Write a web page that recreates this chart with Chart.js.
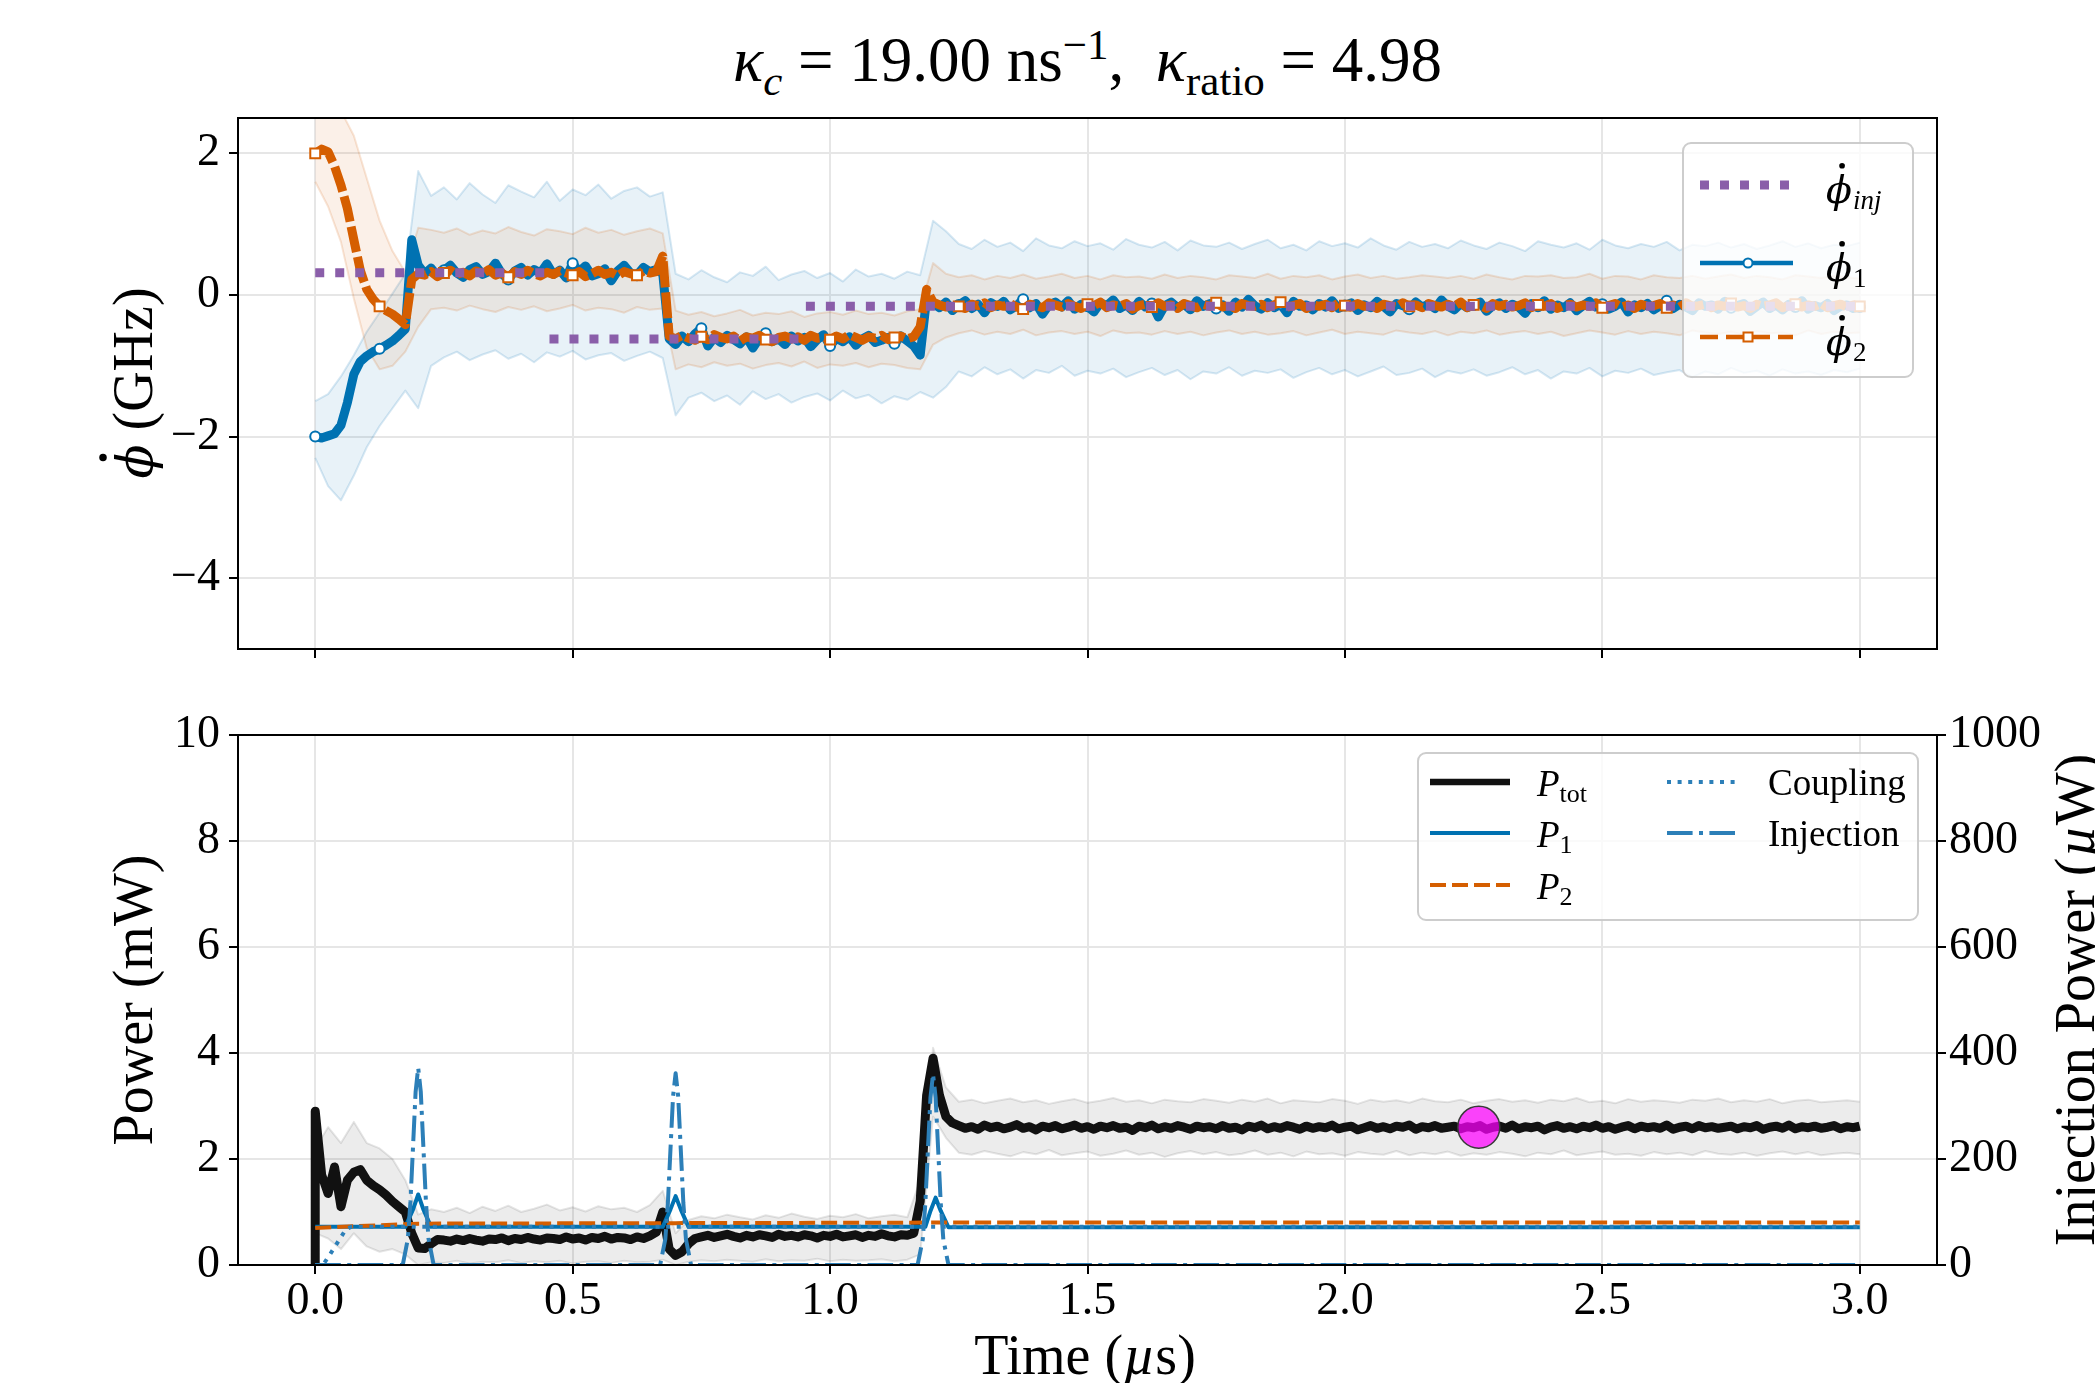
<!DOCTYPE html>
<html>
<head>
<meta charset="utf-8">
<script src="https://cdn.jsdelivr.net/npm/chart.js@4.4.1/dist/chart.umd.min.js"></script>
<style>
html, body { margin: 0; padding: 0; background: #fff; }
body { width: 2095px; height: 1383px; position: relative; overflow: hidden; font-family: 'Liberation Serif', serif; }
#title { position: absolute; left: 238px; width: 1699px; top: 18px; text-align: center; font-size: 63px; line-height: 84px; color: #000; }
#title sub, #title sup { font-size: 43px; line-height: 0; }
canvas { position: absolute; left: 0; }
#top { top: 0; }
#bottom { top: 690px; }
</style>
</head>
<body>
<div id="title"><i>κ</i><sub><i>c</i></sub> = 19.00 ns<sup>−1</sup>,&nbsp; <i>κ</i><sub>ratio</sub> = 4.98</div>
<canvas id="top" width="2095" height="690"></canvas>
<canvas id="bottom" width="2095" height="693"></canvas>
<script>
// tick values
const xTicks = [0, 0.5, 1.0, 1.5, 2.0, 2.5, 3.0];
const phiTicks = [-4, -2, 0, 2];
const powTicks = [0, 2, 4, 6, 8, 10];
const injTicks = [0, 200, 400, 600, 800, 1000];

// phase velocity traces, one value every 0.0125 us (GHz)
const phi1 = [-2.00,-2.02,-1.99,-1.96,-1.84,-1.52,-1.12,-0.94,-0.86,-0.80,-0.76,-0.71,-0.65,-0.57,-0.48,0.78,0.42,
  0.30,0.38,0.27,0.35,0.42,0.31,0.25,0.36,0.40,0.29,0.33,0.45,0.30,0.22,0.34,0.39,0.28,0.36,0.31,0.44,0.29,0.35,0.24,0.45,0.33,0.41,0.27,0.30,0.37,0.20,0.34,0.42,0.31,0.28,0.39,0.33,0.36,0.30,
  -0.62,-0.70,-0.58,-0.66,-0.55,-0.47,-0.72,-0.60,-0.67,-0.57,-0.63,-0.69,-0.59,-0.75,-0.61,-0.54,-0.66,-0.62,-0.70,-0.58,-0.65,-0.60,-0.73,-0.63,-0.56,-0.72,-0.61,-0.66,-0.59,-0.71,-0.62,-0.57,-0.67,-0.64,-0.60,-0.69,-0.58,-0.65,-0.72,-0.85,
  -0.05,-0.12,-0.18,-0.10,-0.22,-0.14,-0.08,-0.19,-0.13,-0.25,-0.11,-0.16,-0.09,-0.21,-0.15,-0.06,-0.18,-0.12,-0.27,-0.14,
  -0.10,-0.17,-0.08,-0.20,-0.13,-0.16,-0.24,-0.11,-0.15,-0.07,-0.19,-0.14,-0.22,-0.09,-0.17,-0.12,-0.31,-0.15,-0.10,-0.18,
  -0.13,-0.21,-0.08,-0.16,-0.12,-0.19,-0.14,-0.23,-0.10,-0.17,-0.06,-0.15,-0.20,-0.11,-0.18,-0.13,-0.25,-0.09,-0.16,-0.14,
  -0.21,-0.12,-0.17,-0.08,-0.19,-0.15,-0.11,-0.22,-0.14,-0.18,-0.09,-0.16,-0.24,-0.12,-0.15,-0.20,-0.10,-0.17,-0.13,-0.19,
  -0.07,-0.16,-0.21,-0.12,-0.18,-0.14,-0.10,-0.23,-0.15,-0.11,-0.19,-0.13,-0.17,-0.26,-0.12,-0.16,-0.08,-0.20,-0.14,-0.18,
  -0.11,-0.22,-0.15,-0.09,-0.17,-0.13,-0.20,-0.16,-0.10,-0.24,-0.14,-0.18,-0.12,-0.21,-0.15,-0.08,-0.19,-0.13,-0.17,-0.22,
  -0.11,-0.16,-0.14,-0.20,-0.09,-0.18,-0.15,-0.12,-0.23,-0.16,-0.10,-0.19,-0.14,-0.21,-0.13,-0.17,-0.08,-0.20,-0.15,-0.18,
  -0.12,-0.22,-0.16,-0.14,-0.19,-0.17];
const phi2 = [2.00,2.06,2.02,1.82,1.55,1.22,0.78,0.35,0.08,-0.06,-0.16,-0.22,-0.27,-0.34,-0.42,0.22,0.30,
  0.28,0.33,0.26,0.31,0.35,0.29,0.32,0.27,0.34,0.30,0.36,0.28,0.31,0.25,0.33,0.29,0.35,0.30,0.27,0.32,0.29,0.34,0.31,0.28,0.33,0.26,0.30,0.35,0.29,0.32,0.27,0.33,0.30,0.28,0.34,0.31,0.33,0.55,
  -0.58,-0.62,-0.57,-0.61,-0.64,-0.59,-0.63,-0.56,-0.60,-0.62,-0.58,-0.65,-0.59,-0.61,-0.57,-0.63,-0.66,-0.60,-0.58,-0.62,-0.59,-0.64,-0.57,-0.61,-0.60,-0.63,-0.58,-0.62,-0.56,-0.60,-0.64,-0.59,-0.61,-0.57,-0.63,-0.60,-0.58,-0.62,-0.59,-0.45,
  0.08,-0.10,-0.14,-0.17,-0.12,-0.16,-0.19,-0.13,-0.15,-0.11,-0.18,-0.14,-0.16,-0.12,-0.17,-0.20,-0.13,-0.15,-0.18,-0.11,
  -0.14,-0.17,-0.12,-0.16,-0.19,-0.13,-0.15,-0.10,-0.18,-0.14,-0.16,-0.12,-0.20,-0.15,-0.13,-0.17,-0.11,-0.16,-0.14,-0.19,
  -0.12,-0.15,-0.18,-0.13,-0.16,-0.11,-0.17,-0.14,-0.19,-0.12,-0.15,-0.16,-0.13,-0.18,-0.14,-0.10,-0.17,-0.15,-0.12,-0.19,
  -0.14,-0.16,-0.13,-0.18,-0.11,-0.15,-0.17,-0.12,-0.16,-0.14,-0.19,-0.13,-0.15,-0.17,-0.11,-0.16,-0.14,-0.18,-0.12,-0.15,
  -0.17,-0.13,-0.16,-0.10,-0.18,-0.14,-0.15,-0.19,-0.12,-0.16,-0.13,-0.17,-0.15,-0.11,-0.18,-0.14,-0.16,-0.12,-0.19,-0.15,
  -0.13,-0.17,-0.14,-0.16,-0.11,-0.18,-0.15,-0.12,-0.17,-0.14,-0.19,-0.13,-0.16,-0.15,-0.12,-0.18,-0.14,-0.17,-0.11,-0.16,
  -0.15,-0.13,-0.18,-0.14,-0.16,-0.12,-0.17,-0.15,-0.19,-0.13,-0.16,-0.14,-0.11,-0.18,-0.15,-0.13,-0.17,-0.14,-0.16,-0.12,
  -0.18,-0.15,-0.13,-0.17,-0.14,-0.16];

// spread bands, one value every 0.025 us (GHz)
const phi1Hi = [-1.50,-1.40,-1.15,-0.85,-0.52,-0.25,0.02,0.30,1.75,1.40,
  1.52,1.35,1.58,1.42,1.30,1.55,1.46,1.38,1.60,1.33,1.49,1.41,1.56,1.36,1.47,1.52,1.39,1.45,
  0.30,0.22,0.35,0.25,0.18,0.32,0.27,0.40,0.21,0.29,0.34,0.24,0.31,0.19,0.36,0.26,0.30,0.23,0.33,0.28,
  1.05,0.90,
  0.72,0.65,0.78,0.68,0.74,0.62,0.80,0.70,0.66,0.76,0.69,0.73,0.64,0.79,0.71,0.67,0.75,0.63,0.77,0.70,
  0.68,0.74,0.65,0.72,0.78,0.66,0.71,0.63,0.76,0.69,0.73,0.67,0.80,0.70,0.64,0.75,0.68,0.72,0.66,0.77,
  0.70,0.65,0.74,0.69,0.62,0.76,0.71,0.67,0.73,0.64,0.78,0.70,0.66,0.72,0.68,0.75,0.63,0.71,0.69,0.74,
  0.67,0.72,0.65,0.70,0.76,0.68,0.73,0.66,0.71,0.69,0.74];
const phi1Lo = [-2.30,-2.70,-2.90,-2.55,-2.15,-1.85,-1.60,-1.35,-1.60,-1.00,
  -0.88,-0.80,-0.92,-0.84,-0.78,-0.90,-0.83,-0.95,-0.81,-0.87,-0.79,-0.91,-0.85,-0.82,-0.93,-0.86,-0.80,-0.89,
  -1.70,-1.45,-1.38,-1.50,-1.42,-1.55,-1.36,-1.47,-1.40,-1.52,-1.44,-1.39,-1.49,-1.35,-1.46,-1.41,-1.53,-1.43,-1.48,-1.37,
  -1.45,-1.30,
  -1.08,-1.15,-1.02,-1.12,-1.05,-1.18,-1.06,-1.10,-1.00,-1.14,-1.07,-1.11,-1.04,-1.16,-1.09,-1.03,-1.13,-1.06,-1.19,-1.08,
  -1.11,-1.02,-1.14,-1.07,-1.10,-1.05,-1.17,-1.09,-1.03,-1.12,-1.06,-1.15,-1.08,-1.01,-1.13,-1.10,-1.04,-1.16,-1.07,-1.11,
  -1.05,-1.14,-1.09,-1.02,-1.12,-1.06,-1.18,-1.08,-1.11,-1.03,-1.15,-1.07,-1.10,-1.04,-1.13,-1.09,-1.06,-1.16,-1.08,-1.12,
  -1.03,-1.10,-1.07,-1.14,-1.05,-1.11,-1.08,-1.13,-1.06,-1.09,-1.04];
const phi2Hi = [2.70,2.70,2.60,2.25,1.65,1.05,0.62,0.32,0.95,0.92,
  0.88,0.94,0.85,0.91,0.87,0.96,0.89,0.84,0.93,0.90,0.86,0.95,0.88,0.92,0.85,0.90,0.94,0.87,
  -0.22,-0.28,-0.24,-0.30,-0.26,-0.21,-0.29,-0.25,-0.27,-0.23,-0.31,-0.26,-0.24,-0.28,-0.22,-0.27,-0.25,-0.29,-0.23,-0.20,
  0.45,0.30,
  0.25,0.28,0.22,0.27,0.24,0.29,0.23,0.26,0.30,0.24,0.27,0.22,0.28,0.25,0.26,0.23,0.29,0.24,0.27,0.25,
  0.22,0.28,0.26,0.24,0.30,0.23,0.27,0.25,0.28,0.22,0.26,0.29,0.24,0.27,0.23,0.25,0.28,0.26,0.24,0.27,
  0.23,0.29,0.25,0.22,0.27,0.26,0.28,0.24,0.25,0.30,0.23,0.27,0.26,0.22,0.28,0.25,0.24,0.27,0.23,0.26,
  0.29,0.24,0.27,0.25,0.22,0.28,0.26,0.24,0.27,0.25,0.23];
const phi2Lo = [1.60,1.25,0.75,-0.05,-0.75,-1.05,-1.00,-0.80,-0.45,-0.20,
  -0.18,-0.22,-0.15,-0.20,-0.24,-0.17,-0.21,-0.16,-0.23,-0.19,-0.14,-0.22,-0.18,-0.20,-0.25,-0.17,-0.21,-0.19,
  -1.05,-0.98,-1.02,-0.95,-1.00,-0.97,-1.04,-0.99,-0.96,-1.01,-0.94,-1.03,-0.98,-1.00,-0.96,-1.02,-0.97,-0.99,-1.03,-1.05,
  -0.70,-0.60,
  -0.54,-0.50,-0.56,-0.52,-0.55,-0.49,-0.57,-0.53,-0.51,-0.55,-0.52,-0.58,-0.50,-0.54,-0.53,-0.56,-0.51,-0.55,-0.52,-0.57,
  -0.53,-0.50,-0.55,-0.52,-0.56,-0.54,-0.51,-0.57,-0.53,-0.49,-0.55,-0.52,-0.54,-0.56,-0.50,-0.53,-0.55,-0.51,-0.57,-0.52,
  -0.54,-0.50,-0.56,-0.53,-0.51,-0.55,-0.52,-0.58,-0.54,-0.50,-0.53,-0.56,-0.51,-0.55,-0.52,-0.54,-0.57,-0.50,-0.53,-0.55,
  -0.52,-0.56,-0.51,-0.54,-0.53,-0.57,-0.50,-0.55,-0.52,-0.54,-0.53];

// injected phase velocity, piecewise constant
const injStart = [0, 0.455, 0.953];
const injEnd = [0.45, 0.945, 3.0];
const injPhase = [0.316, -0.62, -0.16];

// total power (mW): a leading 0 at t = 0, then one value every 0.0125 us
const pTot = [0,
  2.90,1.70,1.35,1.85,1.10,1.60,1.75,1.80,1.60,1.50,1.42,1.32,1.20,1.10,1.00,0.60,0.32,0.31,0.40,0.48,
  0.47,0.45,0.49,0.46,0.50,0.47,0.45,0.49,0.48,0.51,0.46,0.50,0.48,0.52,0.49,0.47,0.51,0.50,0.48,0.53,0.49,0.51,0.47,0.52,0.50,0.54,0.49,0.52,0.51,0.48,0.53,0.50,0.55,0.62,
  1.00,0.30,0.18,0.25,0.40,0.50,
  0.53,0.56,0.52,0.55,0.58,0.54,0.51,0.56,0.53,0.57,0.55,0.52,0.58,0.54,0.56,0.53,0.57,0.55,0.51,0.56,0.54,0.58,0.53,0.55,0.57,0.52,0.56,0.54,0.59,0.55,0.53,0.57,0.56,0.60,
  1.20,3.20,3.90,3.20,2.80,2.68,
  2.63,2.58,2.61,2.56,2.64,2.59,2.62,2.57,2.60,2.65,2.58,2.61,2.55,2.62,2.59,2.63,2.57,2.60,2.64,2.58,
  2.61,2.56,2.62,2.59,2.63,2.58,2.60,2.54,2.62,2.59,2.64,2.57,2.61,2.58,2.63,2.60,2.56,2.62,2.59,2.61,
  2.57,2.63,2.58,2.60,2.55,2.62,2.59,2.64,2.57,2.61,2.58,2.63,2.60,2.56,2.62,2.58,2.61,2.59,2.64,2.57,
  2.60,2.62,2.55,2.59,2.63,2.58,2.61,2.57,2.62,2.60,2.64,2.56,2.61,2.59,2.63,2.58,2.60,2.62,2.57,2.61,
  2.59,2.63,2.56,2.60,2.62,2.58,2.64,2.57,2.61,2.59,2.62,2.55,2.60,2.63,2.58,2.61,2.57,2.62,2.59,2.64,
  2.58,2.61,2.56,2.60,2.63,2.57,2.62,2.59,2.61,2.58,2.64,2.56,2.60,2.62,2.57,2.63,2.59,2.61,2.58,2.60,
  2.62,2.57,2.61,2.59,2.63,2.56,2.60,2.62,2.58,2.64,2.57,2.61,2.59,2.62,2.58,2.60,2.63,2.57,2.61,2.59,2.62];
// spread of total power, every 0.025 us
const pTotHi = [2.20,2.60,2.30,2.70,2.30,2.20,2.00,1.60,0.95,1.05,
  1.00,1.08,0.98,1.10,1.02,1.12,1.00,1.06,1.14,1.03,1.09,1.01,1.11,1.05,1.08,1.00,1.13,1.40,
  0.60,0.85,0.92,0.88,0.95,0.90,0.86,0.94,0.89,0.97,0.91,0.87,0.93,0.90,0.96,0.88,0.92,0.95,0.90,1.60,
  4.10,3.35,
  3.08,3.12,3.05,3.10,3.14,3.07,3.11,3.04,3.09,3.13,3.06,3.10,3.15,3.08,3.11,3.05,3.12,3.09,3.07,3.13,
  3.10,3.06,3.12,3.08,3.14,3.05,3.11,3.09,3.07,3.13,3.10,3.04,3.12,3.08,3.11,3.06,3.14,3.09,3.07,3.12,
  3.05,3.10,3.13,3.08,3.11,3.06,3.12,3.09,3.15,3.07,3.10,3.05,3.13,3.08,3.11,3.09,3.06,3.12,3.10,3.14,
  3.07,3.11,3.08,3.13,3.05,3.10,3.12,3.07,3.09,3.11,3.08];
const pTotLo = [0.60,0.50,0.30,0.60,0.35,0.25,0.30,0.20,0.00,0.05,
  0.04,0.08,0.03,0.06,0.05,0.09,0.04,0.07,0.05,0.08,0.03,0.06,0.07,0.04,0.08,0.05,0.06,0.10,
  0.00,0.06,0.09,0.07,0.10,0.08,0.06,0.11,0.07,0.09,0.08,0.12,0.07,0.10,0.08,0.09,0.11,0.07,0.10,0.20,
  2.80,2.40,
  2.12,2.08,2.15,2.10,2.05,2.13,2.09,2.17,2.07,2.11,2.14,2.06,2.10,2.16,2.08,2.12,2.04,2.11,2.15,2.09,
  2.13,2.07,2.10,2.16,2.08,2.12,2.05,2.14,2.09,2.11,2.06,2.13,2.10,2.08,2.15,2.07,2.12,2.09,2.14,2.06,
  2.11,2.08,2.13,2.10,2.05,2.12,2.09,2.16,2.07,2.11,2.14,2.08,2.10,2.06,2.13,2.09,2.12,2.07,2.15,2.10,
  2.08,2.12,2.06,2.11,2.14,2.09,2.13,2.07,2.10,2.12,2.09];

// laser powers (mW)
const p1Time = [0, 0.175, 0.19, 0.2, 0.21, 0.225, 0.675, 0.69, 0.7, 0.71, 0.725, 1.185, 1.195, 1.205, 1.215, 1.23, 3.0];
const p1 = [0.72, 0.72, 1.05, 1.33, 1.05, 0.72, 0.72, 1.05, 1.30, 1.05, 0.72, 0.72, 1.02, 1.27, 1.02, 0.71, 0.71];
const p2Time = [0, 0.1, 0.2, 0.7, 1.2, 3.0];
const p2 = [0.70, 0.74, 0.78, 0.79, 0.80, 0.80];
const coupTime = [0, 0.015, 0.03, 0.045, 0.06, 0.07, 3.0];
const coupling = [0, 0, 0.22, 0.45, 0.68, 0.72, 0.72];
// injection power (uW)
const injPowTime = [0, 0.17, 0.18, 0.185, 0.19, 0.195, 0.2, 0.205, 0.21, 0.215, 0.22, 0.23,
  0.67, 0.68, 0.685, 0.69, 0.695, 0.7, 0.705, 0.71, 0.715, 0.72, 0.73,
  1.17, 1.18, 1.185, 1.19, 1.195, 1.2, 1.205, 1.21, 1.215, 1.22, 1.23, 3.0];
const injPow = [0, 0, 50, 120, 224, 327, 372, 327, 224, 120, 50, 0,
  0, 49, 117, 218, 318, 362, 318, 218, 117, 49, 0,
  0, 48, 116, 217, 316, 360, 316, 217, 116, 48, 0, 0];
// highlighted operating point
const markT = [2.26];
const markP = [2.6];

const SERIF = "'Liberation Serif', serif";
const GREEK = "'DejaVu Serif', serif";
const BLUE = '#0072B2', ORANGE = '#D55E00', PURPLE = '#8a5ea9', LBLUE = '#2c7fb8';

Chart.defaults.font.family = SERIF;
Chart.defaults.color = '#000';

const fine = arr => arr.map((y, i) => ({ x: i * 0.0125, y }));
const coarse = arr => arr.map((y, j) => ({ x: j * 0.025, y }));
const pair = (xs, ys) => ys.map((y, i) => ({ x: xs[i], y }));

const injPts = [];
injPhase.forEach((v, k) => {
  injPts.push({ x: injStart[k], y: v }, { x: injEnd[k], y: v });
  if (k < injPhase.length - 1) injPts.push({ x: injEnd[k], y: null });
});
const pTotTime = [0].concat(phi1.map((_, i) => i * 0.0125));

const gridOpts = { color: '#e6e6e6', lineWidth: 2, tickColor: '#000', tickLength: 9, tickWidth: 2 };
const borderOpts = { display: true, color: '#000', width: 2 };
const minus = v => (v < 0 ? '\u2212' + (-v) : String(v));

function xScale(labels, h) {
  return {
    type: 'linear', min: -0.15, max: 3.15,
    afterBuildTicks: s => { s.ticks = xTicks.map(v => ({ value: v })); },
    afterFit: s => { s.height = h; },
    grid: gridOpts, border: borderOpts,
    ticks: { autoSkip: false, maxRotation: 0, padding: 0, font: { size: 46 },
      callback: v => (labels ? v.toFixed(1) : '') }
  };
}
function yScale(min, max, ticks, pos, w, onArea) {
  return {
    type: 'linear', position: pos, min, max,
    afterBuildTicks: s => { s.ticks = ticks.map(v => ({ value: v })); },
    afterFit: s => { s.width = w; },
    grid: Object.assign({}, gridOpts, { drawOnChartArea: onArea }), border: borderOpts,
    ticks: { autoSkip: false, padding: pos === 'left' ? 9 : 3, font: { size: 46 }, callback: minus }
  };
}

// drawing helpers for the frame, legends and math titles
function frame(ctx, a) {
  ctx.save(); ctx.strokeStyle = '#000'; ctx.lineWidth = 2;
  ctx.strokeRect(a.left, a.top, a.right - a.left, a.bottom - a.top); ctx.restore();
}
function seg(ctx, x1, x2, y, color, w, dash) {
  ctx.save(); ctx.strokeStyle = color; ctx.lineWidth = w; ctx.setLineDash(dash || []); ctx.lineCap = 'butt';
  ctx.beginPath(); ctx.moveTo(x1, y); ctx.lineTo(x2, y); ctx.stroke(); ctx.restore();
}
function mark(ctx, x, y, shape, color) {
  ctx.save(); ctx.fillStyle = '#fff'; ctx.strokeStyle = color; ctx.lineWidth = 2; ctx.beginPath();
  if (shape === 'circle') ctx.arc(x, y, 4.5, 0, Math.PI * 2); else ctx.rect(x - 4.5, y - 4.5, 9, 9);
  ctx.fill(); ctx.stroke(); ctx.restore();
}
function box(ctx, x, y, w, h) {
  ctx.save(); ctx.fillStyle = 'rgba(255,255,255,0.8)'; ctx.strokeStyle = 'rgba(200,200,200,0.9)'; ctx.lineWidth = 2;
  ctx.beginPath(); ctx.roundRect(x, y, w, h, 8); ctx.fill(); ctx.stroke(); ctx.restore();
}
function run(ctx, x, y, pieces) {
  pieces.forEach(([t, f, dy]) => { ctx.font = f; ctx.fillText(t, x, y + (dy || 0)); x += ctx.measureText(t).width; });
  return x;
}
function phiDot(ctx, x, y, size) {
  ctx.font = `italic ${size}px ${GREEK}`;
  ctx.fillText('\u03d5', x, y);
  const w = ctx.measureText('\u03d5').width;
  ctx.beginPath(); ctx.arc(x + w * 0.62, y - size * 0.98, size * 0.075, 0, Math.PI * 2); ctx.fill();
  return x + w;
}
function rotated(ctx, cx, cy, draw) {
  ctx.save(); ctx.translate(cx, cy); ctx.rotate(-Math.PI / 2); ctx.fillStyle = '#000'; draw(); ctx.restore();
}

const topDecor = {
  id: 'topDecor',
  afterDraw(chart) {
    const ctx = chart.ctx;
    frame(ctx, chart.chartArea);
    ctx.save(); ctx.fillStyle = '#000'; ctx.textBaseline = 'alphabetic';
    box(ctx, 1683, 143, 230, 234);
    seg(ctx, 1700, 1793, 185, PURPLE, 9, [9, 11]);
    seg(ctx, 1700, 1793, 263, BLUE, 4.5);
    mark(ctx, 1748, 263, 'circle', BLUE);
    seg(ctx, 1700, 1793, 337, ORANGE, 4.5, [18, 8]);
    mark(ctx, 1748, 337, 'rect', ORANGE);
    let x = phiDot(ctx, 1826, 203, 38);
    run(ctx, x + 1, 209, [['inj', `italic 27px ${SERIF}`]]);
    x = phiDot(ctx, 1826, 281, 38);
    run(ctx, x + 1, 287, [['1', `27px ${SERIF}`]]);
    x = phiDot(ctx, 1826, 355, 38);
    run(ctx, x + 1, 361, [['2', `27px ${SERIF}`]]);
    ctx.restore();
    // y title
    rotated(ctx, 134, 383, () => {
      ctx.font = `italic 50px ${GREEK}`;
      const wphi = ctx.measureText('\u03d5').width;
      ctx.font = `56px ${SERIF}`;
      const wrest = ctx.measureText(' (GHz)').width;
      let x0 = -(wphi + wrest) / 2;
      x0 = phiDot(ctx, x0, 18, 50);
      run(ctx, x0, 18, [[' (GHz)', `56px ${SERIF}`]]);
    });
  }
};

const bottomDecor = {
  id: 'bottomDecor',
  afterDraw(chart) {
    const ctx = chart.ctx;
    frame(ctx, chart.chartArea);
    ctx.save(); ctx.fillStyle = '#000'; ctx.textBaseline = 'alphabetic';
    box(ctx, 1418, 63, 500, 167);
    seg(ctx, 1430, 1510, 92, '#111', 6.5);
    seg(ctx, 1430, 1510, 143, BLUE, 4);
    seg(ctx, 1430, 1510, 195, ORANGE, 4, [16, 6]);
    seg(ctx, 1667, 1737, 92, LBLUE, 4, [4, 6.6]);
    seg(ctx, 1667, 1737, 143, LBLUE, 4, [25.6, 6.4, 4, 6.4]);
    const P = `italic 37px ${SERIF}`, S = `26px ${SERIF}`;
    run(ctx, 1537, 106, [['P', P], ['tot', S, 6]]);
    run(ctx, 1537, 157, [['P', P], ['1', S, 6]]);
    run(ctx, 1537, 209, [['P', P], ['2', S, 6]]);
    run(ctx, 1768, 105, [['Coupling', `37px ${SERIF}`]]);
    run(ctx, 1768, 156, [['Injection', `37px ${SERIF}`]]);
    ctx.restore();
    // axis titles
    const F = `56px ${SERIF}`, I = `italic 56px ${SERIF}`;
    rotated(ctx, 134, 310, () => {
      ctx.font = F; const w = ctx.measureText('Power (mW)').width;
      run(ctx, -w / 2, 18, [['Power (mW)', F]]);
    });
    rotated(ctx, 2076, 310, () => {
      ctx.font = F; const w1 = ctx.measureText('Injection Power (').width + ctx.measureText('W)').width;
      ctx.font = I; const w2 = ctx.measureText('\u00b5').width;
      run(ctx, -(w1 + w2) / 2, 18, [['Injection Power (', F], ['\u00b5', I], ['W)', F]]);
    });
    ctx.save(); ctx.fillStyle = '#000';
    ctx.font = F; const wa = ctx.measureText('Time (').width + ctx.measureText('s)').width;
    ctx.font = I; const wb = ctx.measureText('\u00b5').width;
    run(ctx, 1085 - (wa + wb) / 2, 684, [['Time (', F], ['\u00b5', I], ['s)', F]]);
    ctx.restore();
  }
};

const common = {
  animation: false, responsive: false, devicePixelRatio: 1, events: [],
  elements: { line: { tension: 0, borderJoinStyle: 'round' }, point: { radius: 0 } },
  plugins: { legend: { display: false }, tooltip: { enabled: false } }
};

const markerRadius = r => ctx => (ctx.dataIndex % 10 === 0 ? r : 0);

new Chart(document.getElementById('top'), {
  type: 'line',
  data: {
    datasets: [
      { label: 'phi_inj', data: injPts, borderColor: PURPLE, borderWidth: 9, borderDash: [9, 11], borderCapStyle: 'butt', spanGaps: false, order: 0 },
      { label: 'phi_2', data: fine(phi2), borderColor: ORANGE, borderWidth: 9, borderDash: [26, 5], order: 1,
        pointStyle: 'rect', pointRadius: markerRadius(7), pointBackgroundColor: '#fff', pointBorderColor: ORANGE, pointBorderWidth: 2 },
      { label: 'phi_1', data: fine(phi1), borderColor: BLUE, borderWidth: 9, order: 2,
        pointStyle: 'circle', pointRadius: markerRadius(5), pointBackgroundColor: '#fff', pointBorderColor: BLUE, pointBorderWidth: 2 },
      { label: 'phi_2 hi', data: coarse(phi2Hi), borderColor: 'rgba(213,94,0,0.16)', borderWidth: 2, fill: '+1', backgroundColor: 'rgba(213,94,0,0.09)', order: 3 },
      { label: 'phi_2 lo', data: coarse(phi2Lo), borderColor: 'rgba(213,94,0,0.16)', borderWidth: 2, order: 4 },
      { label: 'phi_1 hi', data: coarse(phi1Hi), borderColor: 'rgba(0,114,178,0.16)', borderWidth: 2, fill: '+1', backgroundColor: 'rgba(0,114,178,0.09)', order: 5 },
      { label: 'phi_1 lo', data: coarse(phi1Lo), borderColor: 'rgba(0,114,178,0.16)', borderWidth: 2, order: 6 }
    ]
  },
  options: Object.assign({}, common, {
    layout: { padding: { top: 118, right: 158, left: 0, bottom: 0 } },
    scales: { x: xScale(false, 41), y: yScale(-5, 2.5, phiTicks, 'left', 238, true) }
  }),
  plugins: [topDecor]
});

new Chart(document.getElementById('bottom'), {
  type: 'line',
  data: {
    datasets: [
      { label: 'point', data: pair(markT, markP), showLine: false, pointRadius: 21, pointBackgroundColor: 'rgba(255,0,255,0.72)', pointBorderColor: '#3a3a3a', pointBorderWidth: 1.5, order: 0 },
      { label: 'Injection', data: pair(injPowTime, injPow), yAxisID: 'y2', borderColor: LBLUE, borderWidth: 4, borderDash: [25.6, 6.4, 4, 6.4], order: 1 },
      { label: 'Coupling', data: pair(coupTime, coupling), borderColor: LBLUE, borderWidth: 4, borderDash: [4, 6.6], order: 2 },
      { label: 'P2', data: pair(p2Time, p2), borderColor: ORANGE, borderWidth: 4, borderDash: [16, 6], order: 3 },
      { label: 'P1', data: pair(p1Time, p1), borderColor: BLUE, borderWidth: 4, order: 4 },
      { label: 'Ptot', data: pair(pTotTime, pTot), borderColor: '#111', borderWidth: 9, order: 5 },
      { label: 'Ptot hi', data: coarse(pTotHi), borderColor: 'rgba(0,0,0,0.1)', borderWidth: 2, fill: '+1', backgroundColor: 'rgba(0,0,0,0.075)', order: 6 },
      { label: 'Ptot lo', data: coarse(pTotLo), borderColor: 'rgba(0,0,0,0.1)', borderWidth: 2, order: 7 }
    ]
  },
  options: Object.assign({}, common, {
    layout: { padding: { top: 45, right: 0, left: 0, bottom: 0 } },
    scales: {
      x: xScale(true, 118),
      y: yScale(0, 10, powTicks, 'left', 238, true),
      y2: yScale(0, 1000, injTicks, 'right', 158, false)
    }
  }),
  plugins: [bottomDecor]
});
</script>
</body>
</html>
